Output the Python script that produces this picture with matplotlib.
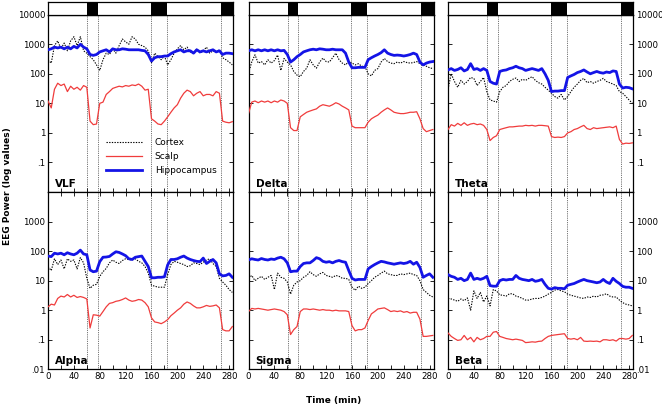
import numpy as np
import matplotlib
matplotlib.use("Agg")
import matplotlib.pyplot as plt
from matplotlib.ticker import FixedLocator, FuncFormatter, NullLocator

# ---------------- data ----------------
time_min = np.arange(0, 290, 5)  # sampling grid, 0..285 min

dark_periods = [(61, 77), (158.5, 183.5), (267, 286)]
transitions = [61, 77, 158.5, 183.5, 267]

series_names = ["Cortex", "Scalp", "Hippocampus"]
band_names = ["VLF", "Delta", "Theta", "Alpha", "Sigma", "Beta"]

vlf_cortex = [300, 230, 900, 1300, 700, 1100, 600, 1300, 1800, 900,
              1800, 600, 500, 380, 300, 200, 130, 300, 500, 450,
              700, 500, 900, 1500, 1200, 1000, 1800, 1500, 1000, 900,
              800, 600, 240, 500, 380, 300, 400, 200, 300, 500,
              700, 900, 650, 800, 550, 500, 700, 500, 600, 800,
              500, 600, 550, 650, 350, 300, 250, 200]
vlf_scalp = [12, 7, 30, 48, 40, 45, 25, 38, 30, 35,
             28, 40, 35, 2.5, 1.9, 2.0, 10, 11, 20, 25,
             32, 35, 38, 36, 40, 38, 42, 40, 45, 38,
             28, 30, 3.0, 2.5, 2.0, 1.9, 2.5, 3.5, 5, 7,
             9, 15, 22, 28, 25, 18, 22, 25, 18, 20,
             20, 18, 25, 22, 2.5, 2.3, 2.2, 2.4]
vlf_hippo = [650, 700, 800, 750, 800, 700, 800, 700, 850, 750,
             1000, 800, 700, 450, 420, 450, 550, 600, 650, 550,
             700, 650, 650, 700, 680, 650, 650, 650, 650, 620,
             600, 450, 270, 350, 380, 380, 400, 400, 480, 550,
             600, 650, 550, 600, 600, 500, 650, 550, 600, 550,
             600, 650, 550, 600, 450, 500, 500, 480]

delta_cortex = [105, 250, 440, 230, 260, 200, 300, 230, 280, 430,
                130, 330, 250, 200, 120, 90, 80, 120, 155, 300,
                200, 155, 250, 340, 260, 250, 350, 500, 300, 230,
                200, 260, 230, 200, 220, 180, 176, 100, 85, 130,
                150, 250, 330, 260, 230, 220, 250, 230, 260, 240,
                230, 240, 260, 220, 200, 180, 160, 150]
delta_scalp = [4.5, 11, 12, 10.5, 12, 11, 12, 10.5, 12, 11,
               13, 12, 10, 1.5, 1.2, 1.2, 3.5, 4.2, 5.0, 5.5,
               6.0, 6.5, 8, 9, 8.5, 8, 9, 10.5, 9.5, 8,
               7, 6, 1.7, 1.5, 1.5, 1.5, 1.5, 2.3, 3.0, 3.5,
               4.0, 5.0, 6.0, 7.0, 6.0, 5.0, 4.7, 4.5, 4.5, 4.7,
               5.0, 5.0, 5.2, 3.0, 1.4, 1.1, 1.2, 1.3]
delta_hippo = [600, 650, 600, 650, 600, 650, 600, 650, 600, 650,
               600, 620, 450, 250, 300, 380, 450, 550, 600, 650,
               680, 650, 700, 680, 650, 650, 680, 650, 650, 650,
               500, 250, 160, 160, 165, 165, 165, 300, 350, 400,
               450, 520, 650, 500, 450, 420, 430, 420, 400, 420,
               450, 500, 450, 250, 200, 230, 250, 260]

theta_cortex = [30, 100, 55, 35, 60, 45, 55, 75, 70, 40,
                55, 75, 25, 13, 12, 11, 25, 35, 40, 55,
                65, 72, 55, 65, 60, 70, 80, 60, 50, 45,
                35, 28, 22, 17, 15, 20, 13, 17, 25, 35,
                45, 60, 70, 50, 55, 48, 55, 60, 70, 55,
                50, 45, 40, 25, 22, 17, 13, 10]
theta_scalp = [1.3, 1.9, 1.7, 2.1, 1.8, 2.2, 1.8, 2.0, 2.1, 1.9,
               2.0, 1.8, 1.3, 0.55, 0.7, 0.8, 1.3, 1.4, 1.5, 1.6,
               1.6, 1.65, 1.7, 1.7, 1.8, 1.75, 1.8, 1.7, 1.8, 1.8,
               1.75, 1.7, 0.75, 0.7, 0.72, 0.7, 0.75, 1.0, 1.1, 1.3,
               1.4, 1.6, 1.8, 1.4, 1.3, 1.5, 1.4, 1.45, 1.5, 1.55,
               1.6, 1.5, 1.7, 0.6, 0.42, 0.45, 0.44, 0.46]
theta_hippo = [135, 150, 130, 140, 160, 125, 140, 220, 140, 150,
               130, 150, 130, 55, 48, 45, 120, 130, 135, 150,
               160, 180, 160, 150, 130, 140, 150, 140, 130, 150,
               100, 60, 25, 26, 26, 27, 27, 75, 85, 95,
               110, 120, 135, 115, 100, 110, 120, 110, 105, 115,
               110, 125, 120, 45, 33, 35, 34, 31]

alpha_cortex = [30, 22, 55, 35, 50, 25, 55, 45, 50, 25,
                60, 40, 12, 5.5, 7, 7.5, 14, 20, 26, 40,
                50, 42, 38, 48, 55, 52, 50, 55, 45, 40,
                30, 18, 7, 6.5, 6, 6, 6, 16, 35, 45,
                42, 38, 35, 30, 32, 40, 38, 35, 42, 50,
                55, 38, 30, 12, 9, 7, 5, 4]
alpha_scalp = [1.3, 1.6, 1.5, 2.5, 3.0, 2.8, 3.4, 2.8, 3.2, 2.7,
               2.9, 2.7, 2.4, 0.25, 0.7, 0.68, 0.63, 0.9, 1.3, 1.7,
               1.8, 2.0, 2.1, 2.3, 2.6, 2.2, 2.0, 2.1, 2.3, 2.2,
               1.8, 1.3, 0.55, 0.4, 0.38, 0.35, 0.4, 0.48, 0.65, 0.8,
               1.0, 1.2, 1.6, 1.9, 1.7, 1.4, 1.2, 1.2, 1.3, 1.45,
               1.35, 1.4, 1.5, 1.2, 0.22, 0.2, 0.2, 0.28]
alpha_hippo = [68, 65, 85, 80, 85, 75, 88, 80, 75, 85,
               108, 80, 75, 23, 20, 21, 44, 62, 63, 66,
               80, 95, 90, 80, 70, 55, 52, 62, 65, 68,
               45, 30, 12.5, 12.5, 13, 13, 13.5, 34, 52, 52,
               55, 62, 68, 58, 52, 48, 45, 44, 58, 38,
               45, 52, 40, 17, 14.5, 15, 17, 13]

sigma_cortex = [12, 15, 10, 12, 14, 11, 13, 15, 5, 18,
                13, 12, 9, 3.5, 7, 9, 10, 13, 15, 20,
                16, 14, 17, 19, 15, 14, 13, 15, 14, 12,
                12, 11, 6, 4.7, 6.5, 5.5, 6, 8, 10, 13,
                15, 18, 21, 17, 16, 15, 15, 17, 16, 17,
                18, 16, 15, 10, 5, 4, 3.2, 2.8]
sigma_scalp = [0.9, 1.15, 1.1, 1.15, 1.1, 1.05, 1.0, 1.05, 1.1, 1.05,
               1.0, 0.9, 0.7, 0.15, 0.22, 0.28, 0.9, 1.1, 1.1, 1.05,
               1.1, 1.05, 1.0, 1.05, 1.0, 1.0, 0.95, 1.0, 0.95, 0.95,
               0.95, 0.9, 0.3, 0.2, 0.22, 0.22, 0.25, 0.45, 0.75, 0.9,
               1.1, 1.15, 1.2, 1.05, 0.9, 0.95, 0.9, 0.95, 0.85, 0.9,
               0.8, 0.85, 0.85, 0.5, 0.13, 0.13, 0.135, 0.14]
sigma_hippo = [50, 55, 52, 50, 56, 52, 50, 54, 52, 58,
               62, 55, 40, 20, 21, 21, 30, 38, 40, 40,
               48, 60, 55, 45, 42, 44, 40, 45, 48, 44,
               42, 22, 12, 10.5, 11, 11, 11, 25, 30, 35,
               40, 45, 43, 40, 38, 36, 38, 40, 38, 40,
               45, 36, 42, 28, 13, 15, 17, 13]

beta_cortex = [2.5, 2.4, 2.2, 2.0, 2.4, 2.1, 2.6, 1.0, 4.5, 2.5,
               4.0, 1.9, 3.0, 1.4, 5.0, 4.5, 3.3, 3.2, 3.0, 3.6,
               3.6, 3.0, 2.8, 2.5, 2.2, 2.2, 2.4, 2.5, 2.5, 2.7,
               3.0, 3.5, 4.0, 4.8, 5.0, 4.5, 4.2, 3.5, 3.2, 3.0,
               2.8, 2.6, 2.5, 2.8, 2.7, 3.0, 2.8, 3.2, 3.3, 3.6,
               3.0, 2.8, 2.8, 2.2, 1.8, 1.6, 1.5, 1.4]
beta_scalp = [0.17, 0.13, 0.11, 0.095, 0.1, 0.14, 0.1, 0.12, 0.085, 0.12,
              0.1, 0.11, 0.13, 0.13, 0.18, 0.19, 0.13, 0.12, 0.11, 0.105,
              0.1, 0.105, 0.1, 0.095, 0.08, 0.082, 0.085, 0.083, 0.088, 0.09,
              0.11, 0.13, 0.14, 0.145, 0.15, 0.155, 0.16, 0.11, 0.105, 0.11,
              0.1, 0.12, 0.09, 0.088, 0.09, 0.088, 0.09, 0.085, 0.1, 0.1,
              0.095, 0.1, 0.09, 0.11, 0.11, 0.105, 0.11, 0.14]
beta_hippo = [16, 14, 13, 11, 12, 10, 11, 18, 11, 12,
              11, 12, 14, 6.8, 6.5, 6.5, 10, 11, 10.5, 11,
              11, 15, 12, 11, 10.5, 10, 11, 9.5, 10, 11,
              7.5, 5.5, 5.2, 5.8, 5.5, 5.5, 5.3, 7, 7.5, 8,
              9, 10, 11, 10, 9.5, 9, 8.5, 9, 11, 9,
              8, 12, 9.5, 8, 6.4, 6, 6, 5.5]

band_data = {
    "VLF": (vlf_cortex, vlf_scalp, vlf_hippo),
    "Delta": (delta_cortex, delta_scalp, delta_hippo),
    "Theta": (theta_cortex, theta_scalp, theta_hippo),
    "Alpha": (alpha_cortex, alpha_scalp, alpha_hippo),
    "Sigma": (sigma_cortex, sigma_scalp, sigma_hippo),
    "Beta": (beta_cortex, beta_scalp, beta_hippo),
}

# ---------------- layout ----------------
W, H = 662, 407
fig = plt.figure(figsize=(W / 100, H / 100), dpi=100)

col_left = [48, 248.5, 448]
panel_w = 185
row_top = [14.7, 192]
panel_h = 177.3

blue = "#1414e6"
red = "#f03c3c"
XMAX = 286

decade_ticks = [0.01, 0.1, 1, 10, 100, 1000, 10000]
decade_labels = {0.01: ".01", 0.1: ".1", 1: "1", 10: "10", 100: "100",
                 1000: "1000", 10000: "10000"}


def make_fmt(hide):
    def f(v, pos):
        for k, lab in decade_labels.items():
            if abs(np.log10(v) - np.log10(k)) < 1e-6:
                return "" if k == hide else lab
        return ""
    return FuncFormatter(f)


for idx, band in enumerate(band_names):
    r, c = divmod(idx, 3)
    left = col_left[c]
    top = row_top[r]
    ax = fig.add_axes([left / W, 1 - (top + panel_h) / H, panel_w / W, panel_h / H])
    cortex, scalp, hippo = band_data[band]
    for tr in transitions:
        ax.axvline(tr, color="#444444", lw=0.6, ls=(0, (1, 1.2)), zorder=1)
    ax.plot(time_min, cortex, color="black", lw=0.8, ls=(0, (1.2, 1.2)), zorder=3,
            label=series_names[0])
    ax.plot(time_min, scalp, color=red, lw=0.9, zorder=4, label=series_names[1])
    ax.plot(time_min, hippo, color=blue, lw=2.0, zorder=5, label=series_names[2])
    ax.set_yscale("log")
    ax.set_ylim(0.01, 10000)
    ax.set_xlim(0, XMAX)
    ax.yaxis.set_major_locator(FixedLocator(decade_ticks))
    ax.yaxis.set_minor_locator(NullLocator())
    ax.yaxis.set_major_formatter(make_fmt(0.01 if r == 0 else 10000))
    xt = list(range(0, 281, 20))
    ax.set_xticks(xt)
    ax.set_xticklabels([str(v) if v % 40 == 0 else "" for v in xt])
    ax.tick_params(axis="both", direction="in", length=3, width=0.6,
                   labelsize=6.2, pad=2, left=True, right=True,
                   top=(r == 1), bottom=True,
                   labelleft=(c == 0), labelright=(c == 2),
                   labelbottom=(r == 1))
    for sp in ax.spines.values():
        sp.set_linewidth(0.9)
    ax.text(0.038, 0.03, band, transform=ax.transAxes, fontsize=7.5,
            fontweight="bold", ha="left", va="baseline")
    if band == "VLF":
        ax.legend(loc="upper left", bbox_to_anchor=(0.314, 0.305), frameon=False,
                  fontsize=6.5, handlelength=4.0, handletextpad=1.4,
                  labelspacing=0.55, borderpad=0, borderaxespad=0)

    if r == 0:
        sax = fig.add_axes([left / W, 1 - (top) / H, panel_w / W, 13 / H])
        sax.set_xlim(0, XMAX)
        sax.set_ylim(0, 1)
        for a, b in dark_periods:
            sax.axvspan(a, b, color="black", lw=0)
        sax.set_xticks([])
        sax.set_yticks([])
        for sp in sax.spines.values():
            sp.set_linewidth(0.9)

fig.text(8 / W, 1 - 186 / H, "EEG Power (log values)", rotation=90,
         ha="center", va="center", fontsize=6.5, fontweight="bold")
fig.text(334 / W, 1 - 400 / H, "Time (min)", ha="center", va="center",
         fontsize=6.5, fontweight="bold")

fig.savefig("out.png", dpi=100)
